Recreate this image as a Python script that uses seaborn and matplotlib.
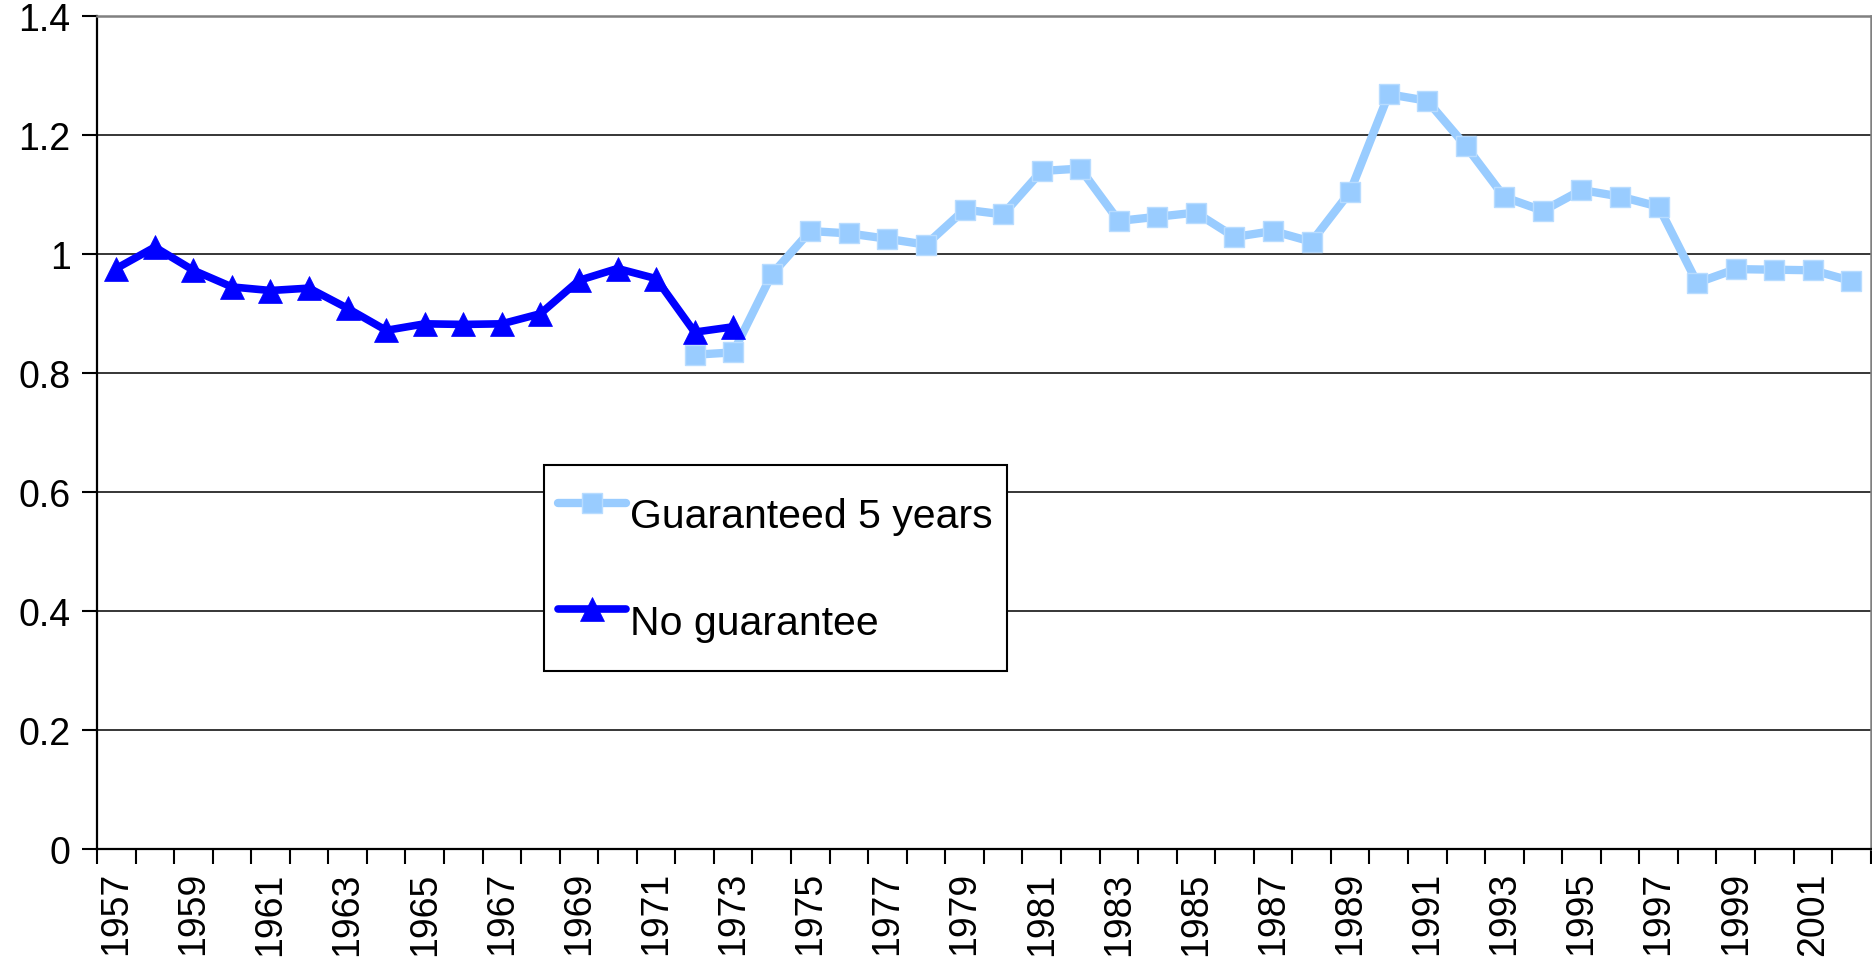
import numpy as np
import pandas as pd
import matplotlib
matplotlib.use('Agg')
import matplotlib.pyplot as plt
import seaborn as sns

# Data
years = list(range(1957, 2003))

no_guarantee = [0.976, 1.012, 0.973, 0.945, 0.939, 0.943, 0.909, 0.872, 0.883, 0.882,
                0.883, 0.900, 0.956, 0.976, 0.959, 0.869, 0.878]
no_guarantee_years = list(range(1957, 1974))

guaranteed_5 = [0.831, 0.835, 0.966, 1.039, 1.035, 1.026, 1.016, 1.075, 1.067, 1.140,
                1.144, 1.056, 1.063, 1.070, 1.029, 1.039, 1.021, 1.105, 1.269, 1.258,
                1.182, 1.096, 1.073, 1.108, 1.097, 1.080, 0.952, 0.975, 0.974, 0.973,
                0.955]
guaranteed_years = list(range(1972, 2003))

tick_labels = [str(y) if (y - 1957) % 2 == 0 else '' for y in years]

light_blue = '#99CCFF'
dark_blue = '#0000FF'

sns.set_style('white')
plt.rcParams['font.family'] = ['Liberation Sans', 'DejaVu Sans']
plt.rcParams['text.color'] = 'black'
plt.rcParams['xtick.color'] = 'black'
plt.rcParams['ytick.color'] = 'black'

fig = plt.figure(figsize=(18.72, 9.62), dpi=100)
ax = fig.add_axes([0.0518, 0.1164, 0.9475, 0.8656])

df_g = pd.DataFrame({'pos': [years.index(y) for y in guaranteed_years], 'value': guaranteed_5})
df_n = pd.DataFrame({'pos': [years.index(y) for y in no_guarantee_years], 'value': no_guarantee})

sns.lineplot(data=df_g, x='pos', y='value', ax=ax, color=light_blue, linewidth=6,
             marker='s', markersize=15, markeredgecolor='#B8DCFF', markeredgewidth=1.0,
             label='Guaranteed 5 years', zorder=3)
sns.lineplot(data=df_n, x='pos', y='value', ax=ax, color=dark_blue, linewidth=5.5,
             marker='^', markersize=17, markeredgecolor=dark_blue, markeredgewidth=0.5,
             label='No guarantee', zorder=4)

ax.set_xlim(-0.5, len(years) - 0.5)
ax.set_ylim(0, 1.4)
ax.set_yticks(np.arange(0, 1.41, 0.2))
ax.set_yticklabels(['0', '0.2', '0.4', '0.6', '0.8', '1', '1.2', '1.4'])
ax.yaxis.grid(True, color='black', linewidth=1.1)
ax.xaxis.grid(False)
ax.set_axisbelow(True)

ax.set_xticks(range(len(years)))
ax.set_xticklabels(tick_labels, rotation=90)
ax.set_xticks(np.arange(-0.5, len(years), 1.0), minor=True)
ax.tick_params(axis='x', which='major', bottom=True, length=0, pad=16, labelsize=27)
ax.tick_params(axis='x', which='minor', bottom=True, length=11, width=1.5,
               color='black', direction='out')
ax.tick_params(axis='y', which='major', left=True, length=11, width=1.5, color='black',
               direction='out', labelsize=27, pad=8)
ax.set_xlabel('')
ax.set_ylabel('')

for side in ['left', 'bottom']:
    ax.spines[side].set_color('black')
    ax.spines[side].set_linewidth(1.6)
for side in ['top', 'right']:
    ax.spines[side].set_color('#808080')
    ax.spines[side].set_linewidth(1.8)

leg = ax.legend(loc='upper left', bbox_to_anchor=(0.252, 0.4615), borderaxespad=0,
                fontsize=29.5, frameon=True, fancybox=False, shadow=False,
                handlelength=1.65, handletextpad=0.1, handleheight=2.3,
                labelspacing=0.85, borderpad=0.35)
leg.get_frame().set_edgecolor('black')
leg.get_frame().set_linewidth(1.5)
leg.get_frame().set_alpha(1)

fig.savefig('out.png', dpi=100)
